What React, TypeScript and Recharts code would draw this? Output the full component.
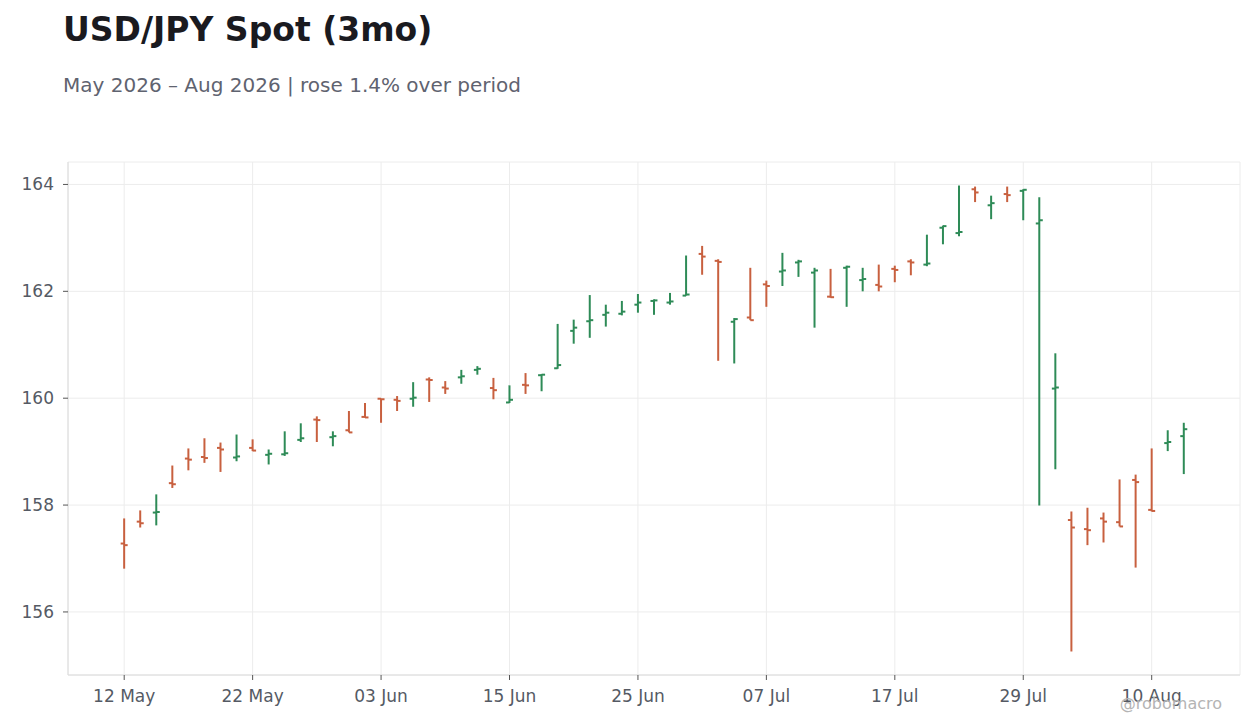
import React from "react";
import { ComposedChart, Bar, XAxis, YAxis, CartesianGrid } from "recharts";

const dates = [
  "12 May", "13 May", "14 May", "15 May", "18 May", "19 May", "20 May", "21 May", "22 May",
  "25 May", "26 May", "27 May", "28 May", "29 May",
  "01 Jun", "02 Jun", "03 Jun", "04 Jun", "05 Jun", "08 Jun", "09 Jun", "10 Jun", "11 Jun", "12 Jun",
  "15 Jun", "16 Jun", "17 Jun", "18 Jun", "19 Jun", "22 Jun", "23 Jun", "24 Jun", "25 Jun", "26 Jun",
  "29 Jun", "30 Jun",
  "01 Jul", "02 Jul", "03 Jul", "06 Jul", "07 Jul", "08 Jul", "09 Jul", "10 Jul", "13 Jul", "14 Jul",
  "15 Jul", "16 Jul", "17 Jul", "20 Jul", "21 Jul", "22 Jul", "23 Jul", "24 Jul", "27 Jul", "28 Jul",
  "29 Jul", "30 Jul", "31 Jul",
  "03 Aug", "04 Aug", "05 Aug", "06 Aug", "07 Aug", "10 Aug", "11 Aug", "12 Aug",
];

const opens = [
  157.28, 157.69, 157.86, 158.41, 158.87, 158.9, 159.07, 158.89, 159.07, 158.94,
  158.95, 159.22, 159.6, 159.27, 159.4, 159.65, 159.99, 159.97, 159.99, 160.35,
  160.2, 160.39, 160.53, 160.19, 159.92, 160.25, 160.43, 160.56, 161.26, 161.44,
  161.56, 161.58, 161.75, 161.82, 161.79, 161.92, 162.7, 162.57, 161.43, 161.51,
  162.13, 162.37, 162.54, 162.35, 161.9, 162.44, 162.21, 162.12, 162.42, 162.56,
  162.5, 163.19, 163.09, 163.91, 163.61, 163.82, 163.88, 163.27, 160.18, 157.72,
  157.55, 157.75, 157.68, 158.47, 157.91, 159.16, 159.29,
];
const highs = [
  157.75, 157.9, 158.2, 158.74, 159.06, 159.25, 159.17, 159.32, 159.23, 159.04,
  159.38, 159.53, 159.66, 159.38, 159.76, 159.91, 159.99, 160.04, 160.3, 160.39,
  160.32, 160.53, 160.6, 160.38, 160.24, 160.47, 160.45, 161.39, 161.47, 161.93,
  161.75, 161.82, 161.95, 161.85, 161.97, 162.67, 162.85, 162.6, 161.5, 162.44,
  162.2, 162.72, 162.59, 162.44, 162.42, 162.48, 162.44, 162.5, 162.48, 162.6,
  163.06, 163.23, 163.98, 163.96, 163.79, 163.96, 163.91, 163.76, 160.84, 157.88,
  157.95, 157.86, 158.48, 158.57, 159.06, 159.4, 159.54,
];
const lows = [
  156.81, 157.58, 157.62, 158.32, 158.65, 158.79, 158.62, 158.82, 159.01, 158.76,
  158.92, 159.18, 159.18, 159.1, 159.36, 159.64, 159.54, 159.76, 159.84, 159.93,
  160.08, 160.27, 160.44, 159.98, 159.91, 160.08, 160.13, 160.55, 161.02, 161.13,
  161.34, 161.55, 161.6, 161.56, 161.75, 161.92, 162.31, 160.7, 160.65, 161.46,
  161.71, 162.1, 162.27, 161.32, 161.88, 161.71, 162.0, 162.0, 162.17, 162.3,
  162.47, 162.88, 163.03, 163.67, 163.35, 163.67, 163.33, 157.99, 158.67, 155.26,
  157.25, 157.3, 157.6, 156.83, 157.88, 159.01, 158.58,
];
const closes = [
  157.25, 157.66, 157.87, 158.39, 158.85, 158.88, 159.04, 158.91, 159.02, 158.96,
  158.97, 159.25, 159.59, 159.29, 159.36, 159.64, 159.98, 159.95, 160.01, 160.34,
  160.18, 160.41, 160.55, 160.15, 159.97, 160.24, 160.44, 160.62, 161.32, 161.46,
  161.6, 161.62, 161.79, 161.83, 161.81, 161.94, 162.65, 162.55, 161.48, 161.46,
  162.1, 162.39, 162.56, 162.39, 161.89, 162.46, 162.23, 162.09, 162.4, 162.54,
  162.52, 163.22, 163.11, 163.85, 163.65, 163.8, 163.9, 163.33, 160.2, 157.58,
  157.53, 157.69, 157.6, 158.43, 157.89, 159.18, 159.42,
];

const xTicks = [0, 8, 16, 24, 32, 40, 48, 56, 64];
const yTicks = [156, 158, 160, 162, 164];

const UP = "#2e8b57";
const DOWN = "#c8603f";
const FONT = "DejaVu Sans";

const rows = dates.map((d, i) => ({
  i,
  date: d,
  o: opens[i],
  h: highs[i],
  l: lows[i],
  c: closes[i],
  range: [lows[i], highs[i]],
}));

const OhlcShape = (props: any) => {
  const { x, y, width, height, payload } = props;
  if (!payload) return null;
  const cx = x + width / 2;
  const { o, h, l, c } = payload;
  const k = height / (h - l);
  const yo = y + (h - o) * k;
  const yc = y + (h - c) * k;
  const color = c >= o ? UP : DOWN;
  return (
    <g>
      <line x1={cx} x2={cx} y1={y} y2={y + height} stroke={color} strokeWidth={2} />
      <line x1={cx - 3.5} x2={cx} y1={yo} y2={yo} stroke={color} strokeWidth={2} />
      <line x1={cx} x2={cx + 3.5} y1={yc} y2={yc} stroke={color} strokeWidth={2} />
    </g>
  );
};

export default function App() {
  return (
    <div style={{ position: "absolute", left: 0, top: 0, width: 1260, height: 728, background: "#fff" }}>
      <ComposedChart
        width={1260}
        height={728}
        data={rows}
        margin={{ top: 162, right: 20, bottom: 0, left: 0 }}
      >
        <CartesianGrid stroke="#ececec" strokeWidth={1} />
        <XAxis
          type="number"
          dataKey="i"
          domain={[-3.5, 69.5]}
          ticks={xTicks}
          interval={0}
          allowDataOverflow
          tickFormatter={(v: number) => dates[v]}
          height={53}
          tickSize={5}
          tickMargin={10}
          axisLine={{ stroke: "#dcdcdc" }}
          tickLine={{ stroke: "#555" }}
          tick={{ fill: "#555a64", fontSize: 17, fontFamily: FONT }}
        />
        <XAxis
          xAxisId="top"
          orientation="top"
          type="number"
          dataKey="i"
          domain={[-3.5, 69.5]}
          height={0}
          tick={false}
          tickLine={false}
          axisLine={{ stroke: "#dcdcdc" }}
        />
        <YAxis
          type="number"
          domain={[154.82, 164.42]}
          ticks={yTicks}
          allowDataOverflow
          width={68}
          tickSize={5}
          tickMargin={9}
          axisLine={{ stroke: "#dcdcdc" }}
          tickLine={{ stroke: "#555" }}
          tick={{ fill: "#555a64", fontSize: 17, fontFamily: FONT }}
        />
        <YAxis
          yAxisId="right"
          orientation="right"
          type="number"
          domain={[154.82, 164.42]}
          width={0}
          tick={false}
          tickLine={false}
          axisLine={{ stroke: "#dcdcdc" }}
        />
        <Bar dataKey="range" barSize={6} shape={OhlcShape} isAnimationActive={false} />
      </ComposedChart>
      <svg
        width={1260}
        height={728}
        style={{ position: "absolute", left: 0, top: 0, pointerEvents: "none" }}
      >
        <text x={63} y={41} fontFamily={FONT} fontWeight="bold" fontSize={33} fill="#1a1a1f">
          USD/JPY Spot (3mo)
        </text>
        <text x={63} y={92} fontFamily={FONT} fontSize={20} fill="#5f6370">
          May 2026 – Aug 2026 | rose 1.4% over period
        </text>
        <text x={1222} y={709} textAnchor="end" fontFamily={FONT} fontSize={16} fill="#b4b4b4">
          @robomacro
        </text>
      </svg>
    </div>
  );
}
